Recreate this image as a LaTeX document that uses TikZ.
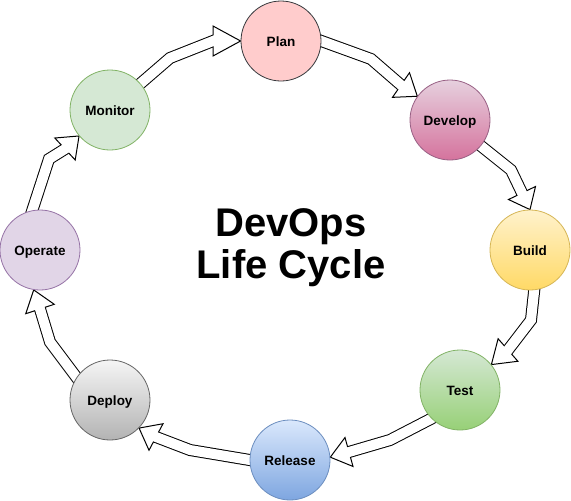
\documentclass[tikz,border=0pt]{standalone}
\usepackage{fontspec}
\setmainfont{Liberation Sans}
\usetikzlibrary{calc,backgrounds}
\definecolor{planF}{HTML}{FFCCCC}\definecolor{planS}{HTML}{36393D}
\definecolor{devT}{HTML}{E6D0DE}\definecolor{devB}{HTML}{D5739D}\definecolor{devS}{HTML}{996185}
\definecolor{bldT}{HTML}{FFF2CC}\definecolor{bldB}{HTML}{FFD966}\definecolor{bldS}{HTML}{D6B656}
\definecolor{tstT}{HTML}{D5E8D4}\definecolor{tstB}{HTML}{97D077}\definecolor{tstS}{HTML}{82B366}
\definecolor{relT}{HTML}{DAE8FC}\definecolor{relB}{HTML}{7EA6E0}\definecolor{relS}{HTML}{6C8EBF}
\definecolor{depT}{HTML}{F5F5F5}\definecolor{depB}{HTML}{B3B3B3}\definecolor{depS}{HTML}{666666}
\definecolor{opF}{HTML}{E1D5E7}\definecolor{opS}{HTML}{9673A6}
\definecolor{monF}{HTML}{D5E8D4}\definecolor{monS}{HTML}{82B366}
\newcommand\myflex[4]{%
  \begin{pgfonlayer}{background}
  \draw[line width=12pt, black, line join=miter] ($(#1)!-8pt!(#2)$) -- (#2) -- ($(#3)!-3pt!(#2)$);
  \draw[fill=white, line width=1pt, line join=miter] ($(#3)!15pt!90:(#4)$) -- (#4) -- ($(#3)!15pt!-90:(#4)$) -- cycle;
  \draw[line width=10pt, white, line join=miter] ($(#1)!-8pt!(#2)$) -- (#2) -- ($(#3)!-4pt!(#2)$);
  \end{pgfonlayer}}
\tikzset{
  stage/.style={circle, minimum size=80pt, inner sep=0pt, line width=0.8pt,
    text height=12.5pt, text depth=2.5pt,
    font=\bfseries\fontsize{13.5}{16}\selectfont},
  titletext/.style={anchor=base, font=\bfseries\fontsize{40}{41.5}\selectfont}
}
\begin{document}
\begin{tikzpicture}[x=1pt,y=-1pt]
\begin{pgfonlayer}{background}
\fill[white] (0,0) rectangle (571,501);
\end{pgfonlayer}
\useasboundingbox (0,0) rectangle (571,501);
\node[stage, fill=planF, draw=planS] (plan) at (281,41) {Plan};
\node[stage, top color=devT, bottom color=devB, draw=devS] (develop) at (450,120) {Develop};
\node[stage, top color=bldT, bottom color=bldB, draw=bldS] (build) at (530,250) {Build};
\node[stage, top color=tstT, bottom color=tstB, draw=tstS] (test) at (460,390) {Test};
\node[stage, top color=relT, bottom color=relB, draw=relS] (release) at (290,460) {Release};
\node[stage, top color=depT, bottom color=depB, draw=depS] (deploy) at (110,400) {Deploy};
\node[stage, fill=opF, draw=opS] (operate) at (40,250) {Operate};
\node[stage, fill=monF, draw=monS] (monitor) at (110,110) {Monitor};
\node[titletext] (title1) at (291,236.7) {DevOps};
\node[titletext] (title2) at (291,278) {Life Cycle};
\myflex{monitor.41}{170,58}{213,41}{plan.180}
\myflex{plan.0}{371,59}{401,85}{develop.144}
\myflex{develop.-40}{511,170}{522,193}{build.90}
\myflex{build.-84}{531,320}{508,350}{test.39}
\myflex{test.-135}{390,440}{349,452}{release.4}
\myflex{release.180}{190,450}{156,437}{deploy.-44}
\myflex{deploy.146}{50,342}{40,309}{operate.-99}
\myflex{operate.101}{49,159}{65,149}{monitor.-140}
\end{tikzpicture}
\end{document}
